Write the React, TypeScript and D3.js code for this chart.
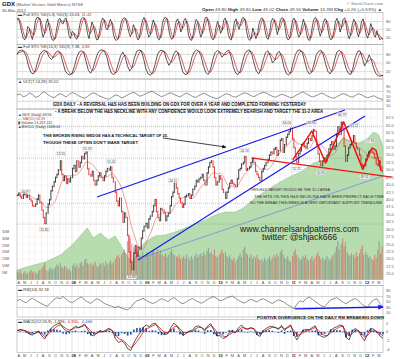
import React, { useEffect, useRef } from 'react';
import * as d3 from 'd3';

const W = 400, H = 359;
const X0 = 17, X1 = 383;
const FONT = "'Liberation Sans', Arial, sans-serif";
const START = new Date(2007, 3, 2);
const END = new Date(2012, 2, 30);

// Weekly GDX closes, 4 per month, Apr 2007 – Mar 2012
const gdxClose = [
  41.5, 42.2, 41.0, 40.5, 41.8, 42.5, 40.8, 41.5, 40.2, 39.5, 38.0, 37.8,
  38.5, 40.2, 41.5, 39.0, 36.5, 34.0, 32.0, 35.5, 38.5, 40.0, 43.0, 44.5,
  46.0, 47.5, 48.5, 50.0, 53.0, 48.5, 46.5, 48.0, 45.5, 47.0, 46.0, 47.5,
  50.5, 51.5, 49.5, 53.0, 51.0, 52.5, 54.5, 53.8, 55.5, 56.0, 50.5, 48.5,
  48.0, 49.5, 46.5, 45.0, 46.5, 48.0, 49.0, 47.5, 46.5, 48.0, 49.5, 50.5,
  50.0, 51.0, 47.5, 46.0, 42.5, 39.5, 38.0, 40.5, 36.0, 32.5, 35.5, 34.0,
  28.0, 22.5, 19.0, 16.5, 22.0, 24.5, 21.0, 24.0, 23.5, 27.0, 29.5, 31.0,
  32.0, 30.5, 33.5, 34.5, 36.0, 38.0, 40.0, 36.0, 34.0, 33.0, 37.0, 36.5,
  35.5, 33.0, 34.5, 35.5, 38.0, 41.0, 42.5, 45.5, 44.0, 42.0, 40.5, 39.0,
  37.5, 38.5, 41.0, 41.5, 42.0, 40.5, 41.5, 43.5, 44.5, 46.5, 46.0, 47.0,
  47.5, 48.5, 46.5, 45.0, 49.0, 51.0, 52.5, 53.0, 51.0, 47.5, 45.0, 46.0,
  48.0, 47.0, 43.5, 42.5, 40.5, 42.5, 44.0, 45.5, 46.5, 45.5, 45.0, 44.5,
  47.0, 50.0, 50.5, 52.0, 52.5, 54.5, 50.0, 50.5, 51.0, 52.5, 54.0, 52.5,
  49.5, 48.5, 47.5, 46.5, 49.5, 50.5, 51.5, 52.5, 53.5, 55.0, 56.0, 55.5,
  57.0, 57.5, 55.0, 56.5, 60.0, 60.5, 56.0, 58.5, 61.0, 62.0, 63.0, 64.0,
  60.5, 57.5, 54.5, 52.5, 55.5, 56.5, 58.5, 59.0, 58.0, 57.5, 59.0, 60.5,
  60.0, 61.5, 63.5, 63.0, 58.5, 55.5, 53.0, 51.5, 53.0, 54.0, 53.0, 55.0,
  57.0, 58.5, 59.5, 57.0, 58.0, 62.0, 64.5, 62.0, 66.0, 64.0, 58.0, 53.0,
  55.0, 57.5, 58.5, 59.5, 61.5, 59.0, 57.5, 57.0, 55.0, 52.0, 50.5, 51.5,
  53.5, 55.0, 56.0, 56.5, 56.0, 55.5, 54.0, 52.0, 51.5, 53.0, 51.0, 49.5,
];

// Weekly average volume, millions
const gdxVolume = [
  6, 5, 7, 4, 5, 6, 4, 5, 6, 7, 5, 6, 5, 4, 6, 7, 8, 10, 12, 7, 6, 8, 9, 7, 8, 9, 11, 10, 12, 9, 8, 10, 9, 7, 8, 6,
  10, 12, 9, 11, 9, 12, 13, 10, 14, 15, 12, 11, 12, 10, 11, 13, 10, 9, 12, 11, 12, 10, 13, 11, 12, 14, 11, 13,
  15, 17, 18, 16, 18, 20, 22, 19, 28, 32, 30, 26, 24, 22, 20, 19, 18, 17, 20, 16,
  18, 20, 17, 19, 21, 22, 18, 20, 22, 19, 21, 18, 17, 19, 16, 18, 20, 22, 19, 18, 17, 16, 18, 15,
  16, 17, 15, 18, 16, 14, 17, 15, 17, 19, 16, 18, 19, 17, 20, 18, 21, 23, 19, 20, 18, 22, 17, 16,
  18, 20, 22, 19, 20, 17, 16, 18, 15, 14, 16, 13, 15, 17, 19, 16, 22, 24, 19, 18, 16, 18, 15, 17,
  16, 18, 15, 14, 15, 13, 16, 14, 15, 17, 14, 16, 18, 16, 19, 17, 20, 22, 18, 16, 15, 17, 14, 13,
  17, 20, 22, 18, 16, 14, 15, 17, 16, 18, 15, 14, 15, 17, 14, 16, 18, 20, 17, 15, 16, 14, 15, 17,
  15, 14, 16, 18, 20, 24, 28, 22, 26, 30, 24, 27, 20, 18, 17, 19, 18, 16, 20, 17, 19, 22, 25, 18,
  20, 18, 16, 17, 15, 14, 18, 16, 22, 28, 19, 24,
];

// Gold overlay (green area)
const goldDates = ['2007-04-02', '2007-06-06', '2007-08-21', '2007-11-04', '2008-01-02', '2008-02-11', '2008-03-17',
  '2008-04-16', '2008-05-21', '2008-06-30', '2008-08-04', '2008-09-08', '2008-10-08', '2008-11-01', '2008-11-26',
  '2008-12-31', '2009-02-18', '2009-04-09', '2009-05-29', '2009-07-18', '2009-09-06', '2009-10-26', '2009-12-15',
  '2010-02-03', '2010-03-25', '2010-05-04', '2010-07-03', '2010-09-01', '2010-10-26', '2010-12-10', '2011-02-13',
  '2011-04-19', '2011-06-08', '2011-07-28', '2011-09-16', '2011-10-21', '2011-11-30', '2012-01-04', '2012-02-13',
  '2012-03-09', '2012-03-30'];
const goldValues = [638, 676, 714, 781, 876, 962, 1038, 943, 990, 924, 962, 848, 752, 714, 829, 905, 962, 971, 1000,
  1038, 1076, 1114, 1162, 1190, 1190, 1229, 1324, 1400, 1467, 1514, 1571, 1657, 1686, 1810, 1895, 1857, 1848, 1876,
  1952, 1924, 1810];

const sto5K = [
  88, 92, 70, 40, 18, 10, 25, 60, 55, 30, 12, 40, 82, 95, 96, 85, 50, 20, 35, 72,
  90, 60, 28, 10, 8, 22, 55, 85, 92, 75, 70, 88, 94, 60, 25, 15, 42, 38, 20, 12,
  30, 68, 90, 95, 92, 70, 35, 15, 50, 78, 62, 30, 10, 12, 45, 80, 93, 85, 55, 48,
  70, 88, 72, 30, 12, 8, 15, 42, 75, 90, 94, 90, 65, 40, 22, 35, 68, 55, 25, 10,
  20, 58, 85, 95, 80, 45, 20, 28, 62, 86, 70, 38, 15, 10, 30, 75, 92, 96, 88, 52,
  25, 12, 18, 50, 82, 90, 66, 40, 55, 84, 92, 70, 28, 12, 8, 30, 64, 88, 80, 45,
  20, 35, 72, 94, 96, 75, 40, 18, 10, 22, 58, 80, 62, 35, 48, 85, 93, 70, 30, 14,
  10, 40, 78, 90, 68, 50, 72, 92, 95, 82, 40, 15, 8, 20, 55, 35, 15, 30, 70, 88,
  94, 80, 45, 18, 12, 38, 80, 92, 86, 60, 30, 55, 85, 95, 90, 58, 22, 10, 15, 50,
  84, 93, 76, 40, 20, 30, 62, 88, 70, 35, 12, 8, 28, 66, 90, 95, 80, 48, 24, 42,
  75, 90, 85, 52, 20, 10, 18, 45, 80, 92, 72, 40, 60, 88, 94, 66, 30, 14, 35, 70,
  88, 76, 40, 22, 45, 80, 90, 62, 30, 16, 40, 72, 56, 30, 20, 45, 25, 10, 16, 12,
];

const sto14K = [
  80, 92, 95, 90, 72, 40, 18, 12, 25, 55, 80, 90, 94, 88, 70, 62, 75, 88, 92, 80,
  50, 22, 12, 8, 15, 40, 70, 88, 92, 86, 55, 25, 15, 30, 58, 82, 94, 95, 90, 72,
  38, 15, 10, 20, 48, 75, 88, 70, 40, 22, 35, 68, 90, 95, 92, 65, 30, 12, 8, 18,
  45, 78, 92, 94, 88, 60, 42, 55, 80, 92, 85, 50, 20, 10, 12, 35, 70, 88, 95, 90,
  74, 40, 18, 10, 25, 60, 85, 93, 88, 70, 78, 90, 94, 72, 36, 15, 10, 22, 55, 82,
  92, 95, 80, 48, 22, 12, 30, 62, 86, 92, 75, 50, 60, 84, 90, 70, 35, 14, 8, 20,
  52, 80, 93, 95, 85, 55, 25, 12, 18, 45, 78, 90, 94, 80, 48, 22, 12, 28, 62, 88,
  94, 86, 58, 30, 14, 10, 35, 70, 90, 92, 68, 40, 55, 78, 60, 30, 12, 6, 5, 7,
];

const ult = [
  55, 60, 48, 52, 63, 58, 45, 50, 62, 68, 57, 49, 44, 53, 61, 55, 47, 58, 65, 60,
  52, 46, 42, 50, 59, 64, 57, 50, 45, 40, 38, 47, 55, 52, 43, 48, 56, 62, 66, 58,
  50, 55, 61, 67, 70, 62, 55, 48, 53, 60, 64, 58, 52, 47, 55, 63, 57, 50, 45, 52,
  58, 62, 54, 48, 44, 40, 46, 54, 60, 57, 50, 46, 52, 59, 64, 60, 53, 48, 55, 61,
  66, 63, 56, 50, 46, 52, 58, 55, 49, 44, 48, 56, 62, 68, 60, 53, 47, 51, 57, 63,
  58, 50, 45, 42, 48, 55, 61, 57, 50, 46, 53, 60, 56, 49, 44, 48, 52, 45, 40, 36,
];

const rsi14 = [
  55, 60, 52, 47, 58, 64, 57, 50, 44, 38, 35, 48, 58, 66, 62, 70, 60, 52, 48, 56,
  63, 68, 58, 50, 45, 55, 62, 57, 48, 42, 38, 34, 30, 35, 28, 24, 22, 30, 45, 55,
  58, 64, 56, 50, 45, 48, 56, 62, 58, 52, 60, 66, 58, 48, 44, 50, 58, 63, 56, 50,
  46, 52, 60, 66, 70, 62, 55, 58, 64, 68, 72, 64, 56, 50, 46, 54, 60, 56, 50, 58,
  62, 57, 50, 45, 52, 58, 54, 48, 40, 34, 25, 42, 55, 50, 62, 68, 60, 52, 44, 36,
  33, 46, 58, 62, 66, 58, 50, 44, 52, 58, 63, 55, 44, 35, 31, 48, 58, 62, 45, 32,
];

const macdLine = [
  0.3, 0.6, 0.4, 0.1, -0.5, -0.7, -0.2, 0.2, -0.8, -1.6, -0.3, 0.8, 1.4, 1.8, 2.0, 0.9, 0.2, 0.1,
  0.8, 1.3, 1.0, 1.4, 1.8, 0.5, -0.6, -0.9, -0.2, 0.3, 0.1, 0.5, 0.9, 0.2, -1.5, -2.4, -2.0, -2.6, -3.8, -4.2, -2.5, -1.2, -0.2, 1.0,
  1.6, 1.2, 1.8, 2.0, 0.8, -0.2, -0.6, -0.4, 1.0, 2.0, 1.4, 0.2, -0.8, -0.3, 0.2, 0.4, 1.2, 1.4, 1.0, 0.2, 1.4, 1.9, 0.4, -0.9,
  -0.8, -1.5, -1.2, -0.2, 0.3, -0.1, 0.9, 1.6, 0.8, 0.6, 1.0, 0.7, -0.6, -1.0, 0.3, 0.8, 1.2, 1.3, 1.0, 0.6, 1.5, 0.3, 1.2, 1.6,
  -0.5, -1.8, -0.6, 0.4, 0.6, 0.5, 1.0, 1.4, -0.5, -1.0, -1.2, -0.8, 0.4, 0.9, 1.2, 1.6, 1.4, -1.2, -1.8, 0.2, 0.8, 0.3, -1.0, -2.0,
  -0.4, 0.8, 0.6, 0.0, -0.9, -1.4,
];

const priceTicks = [15, 17.5, 20, 22.5, 25, 27.5, 30, 32.5, 35, 37.5, 40, 42.5, 45, 47.5, 50, 52.5, 55, 57.5, 60, 62.5, 65, 67.5];
const volTicks = [5, 10, 15, 20, 25, 30, 35];
const monthLetters = ['J', 'F', 'M', 'A', 'M', 'J', 'J', 'A', 'S', 'O', 'N', 'D'];
const stoTicks = [80, 50, 20];
const oscTicks = [90, 70, 50, 30, 10];
const macdTicks = [2, 0, -2, -4];
const dottedLevels = [64.6, 54.0, 38.8, 31.8];

const priceLabels = [
  { text: '40.97', date: '2007-05-15', value: 40.97, above: true },
  { text: '31.80', date: '2007-08-16', value: 31.8, above: false },
  { text: '53.55', date: '2007-11-07', value: 53.55, above: true },
  { text: '55.19', date: '2008-03-17', value: 55.19, above: true },
  { text: '51.02', date: '2008-07-15', value: 51.02, above: true },
  { text: '15.83', date: '2008-10-24', value: 15.83, above: false },
  { text: '44.55', date: '2009-05-20', value: 44.55, above: true },
  { text: '54.74', date: '2010-05-10', value: 54.74, above: true },
  { text: '64.00', date: '2010-12-07', value: 64.0, above: true },
  { text: '52.11', date: '2011-01-25', value: 52.11, above: false },
  { text: '63.96', date: '2011-04-08', value: 63.96, above: true },
  { text: '50.95', date: '2011-05-25', value: 50.95, above: false },
  { text: '66.79', date: '2011-09-08', value: 66.79, above: true },
  { text: '63.11', date: '2011-11-08', value: 63.11, above: true },
  { text: '49.51', date: '2011-12-29', value: 49.51, above: false },
  { text: '57.94', date: '2012-01-25', value: 57.94, above: true },
];

const trendLines = [
  { pts: [['2008-05-05', 40.9], ['2011-09-22', 70.2]], color: '#1515e8', width: 1.1 },
  { pts: [['2008-11-25', 19.7], ['2011-12-31', 68.2]], color: '#1515e8', width: 1.1 },
  { pts: [['2008-11-25', 20.0], ['2012-03-31', 48.0]], color: '#5a6ef0', width: 0.6 },
  { pts: [['2010-06-21', 54.0], ['2012-05-13', 47.6]], color: '#ee1515', width: 1.2 },
  {
    pts: [['2011-01-05', 53.4], ['2011-04-10', 63.1], ['2011-06-18', 52.4], ['2011-09-16', 66.2],
      ['2011-12-20', 50.3], ['2012-02-04', 57.4], ['2012-02-24', 56.7], ['2012-03-20', 49.7]],
    color: '#ee1515', width: 1.5,
  },
];
const wedgeArrow = [['2009-03-29', 60.8], ['2010-02-06', 57.7]];
const rsiArrow = [['2011-01-16', 25], ['2012-03-30', 32]];

export default function App() {
  const ref = useRef<SVGSVGElement>(null);

  useEffect(() => {
    const svg = d3.select(ref.current);
    svg.selectAll('*').remove();
    const parse = d3.timeParse('%Y-%m-%d');
    const x = d3.scaleTime().domain([START, END]).range([X0, X1]);
    const span = END.getTime() - START.getTime();
    const evenDates = (n: number) => d3.range(n).map((i) => new Date(START.getTime() + (i * span) / (n - 1)));
    const weekDate = (i: number) => new Date(2007, 3 + Math.floor(i / 4), 4 + (i % 4) * 7);
    const sma = (arr: number[], n: number) => arr.map((_, i) => d3.mean(arr.slice(Math.max(0, i - n + 1), i + 1)) as number);

    const defs = svg.append('defs');
    const mk = (id: string, color: string, size: number) =>
      defs.append('marker').attr('id', id).attr('viewBox', '0 0 10 10').attr('refX', 9).attr('refY', 5)
        .attr('markerWidth', size).attr('markerHeight', size).attr('orient', 'auto')
        .append('path').attr('d', 'M0,0L10,5L0,10z').attr('fill', color);
    mk('arrBlack', '#111', 5);
    mk('arrBlue', '#1515e8', 4);

    svg.append('rect').attr('width', W).attr('height', H).attr('fill', '#fff');

    const months = d3.timeMonth.range(new Date(2007, 3, 1), new Date(2012, 3, 1));

    const panel = (top: number, bottom: number) => {
      const g = svg.append('g');
      months.forEach((m) => {
        const xm = x(m);
        if (xm < X0) return;
        g.append('line').attr('x1', xm).attr('x2', xm).attr('y1', top).attr('y2', bottom)
          .attr('stroke', m.getMonth() === 0 ? '#c4c4c4' : '#e6e6e6').attr('stroke-width', 0.5);
      });
      g.append('rect').attr('x', X0).attr('y', top).attr('width', X1 - X0).attr('height', bottom - top)
        .attr('fill', 'none').attr('stroke', '#999').attr('stroke-width', 0.5);
      return g;
    };

    const rightLabels = (ticks: number[], y: (v: number) => number, fmt: (v: number) => string) => {
      ticks.forEach((t) => {
        svg.append('text').attr('x', X1 + 3).attr('y', y(t) + 1.3).attr('font-size', 3.9).attr('fill', '#555').text(fmt(t));
      });
    };

    const hLines = (ticks: number[], y: (v: number) => number, color: string, w: number) => {
      ticks.forEach((t) => {
        svg.append('line').attr('x1', X0).attr('x2', X1).attr('y1', y(t)).attr('y2', y(t))
          .attr('stroke', color).attr('stroke-width', w);
      });
    };

    const linePath = (dates: Date[], vals: number[], y: (v: number) => number, color: string, w: number) => {
      svg.append('path').datum(vals)
        .attr('d', d3.line<number>().x((_, i) => x(dates[i])).y((v) => y(v)))
        .attr('fill', 'none').attr('stroke', color).attr('stroke-width', w).attr('stroke-linejoin', 'round');
    };

    const panelLabel = (y: number, parts: { t: string; c?: string }[]) => {
      const t = svg.append('text').attr('x', 18).attr('y', y).attr('font-size', 4.1).attr('fill', '#333');
      parts.forEach((p) => t.append('tspan').attr('fill', p.c || '#333').text(p.t));
    };

    // ---------- Header ----------
    const title = svg.append('text').attr('x', 2).attr('y', 6.2);
    title.append('tspan').attr('font-size', 6).attr('font-weight', 'bold').attr('fill', '#111').text('GDX');
    title.append('tspan').attr('font-size', 4.2).attr('fill', '#555').text(' (Market Vectors Gold Miners) NYSE');
    svg.append('text').attr('x', 2).attr('y', 11.8).attr('font-size', 4.2).attr('fill', '#444').text('30-Mar-2012');
    svg.append('text').attr('x', X1).attr('y', 5.2).attr('text-anchor', 'end').attr('font-size', 4.2).attr('fill', '#777')
      .text('© StockCharts.com');
    const q = svg.append('text').attr('x', 202).attr('y', 11.2).attr('font-size', 4.2).attr('fill', '#444')
      .attr('textLength', 180).attr('lengthAdjust', 'spacingAndGlyphs');
    [['Open', ' 49.80  '], ['High', ' 49.80  '], ['Low', ' 49.02  '], ['Close', ' 49.56  '], ['Volume', ' 16.3M  '], ['Chg', ' +0.26 (+0.53%) ▲']]
      .forEach(([a, b]) => {
        q.append('tspan').attr('font-weight', 'bold').attr('fill', '#222').text(a);
        q.append('tspan').text(b);
      });

    // ---------- Panel 1: Full STO 5,3 ----------
    const y1 = d3.scaleLinear().domain([0, 100]).range([42.5, 16.2]);
    panel(12.5, 44.5);
    hLines(stoTicks, y1, '#b5b5b5', 0.5);
    const d1 = evenDates(sto5K.length);
    linePath(d1, sma(sto5K, 3), y1, '#d01010', 0.65);
    linePath(d1, sto5K, y1, '#111', 0.7);
    rightLabels(stoTicks, y1, String);
    panelLabel(15.6, [{ t: '▬ Full STO %K(5,3) %D(3) 15.03, ' }, { t: '11.42', c: '#e02020' }]);

    // ---------- Panel 2: Full STO 14,3 ----------
    const y2 = d3.scaleLinear().domain([0, 100]).range([77.5, 48.5]);
    panel(44.5, 79);
    hLines(stoTicks, y2, '#b5b5b5', 0.5);
    const d2 = evenDates(sto14K.length);
    linePath(d2, sma(sto14K, 3), y2, '#d01010', 0.65);
    linePath(d2, sto14K, y2, '#111', 0.7);
    rightLabels(stoTicks, y2, String);
    panelLabel(48.3, [{ t: '▬ Full STO %K(14,3) %D(3) 7.38, ' }, { t: '4.88', c: '#e02020' }]);

    // ---------- Panel 3: ULT ----------
    const y3 = d3.scaleLinear().domain([0, 100]).range([108.5, 84]);
    panel(79, 109);
    hLines([70, 30], y3, '#a8a8a8', 0.5);
    linePath(evenDates(ult.length), ult, y3, '#222', 0.5);
    rightLabels(oscTicks, y3, String);
    panelLabel(83, [{ t: '▲ ULT(7,14,28) 35.52' }]);

    // ---------- Main price panel ----------
    const yP = d3.scaleLinear().domain([15, 67.5]).range([274, 118]);
    const yV = d3.scaleLinear().domain([0, 35]).range([279.5, 231.5]);
    const yG = d3.scaleLinear().domain([600, 2000]).range([274, 127]);
    panel(109, 285.5);
    priceTicks.forEach((t) => {
      svg.append('line').attr('x1', X0).attr('x2', X1).attr('y1', yP(t)).attr('y2', yP(t))
        .attr('stroke', '#ececec').attr('stroke-width', 0.4);
    });
    // green gold area
    const gd = goldDates.map((s) => parse(s) as Date);
    svg.append('path').datum(goldValues)
      .attr('d', d3.area<number>().x((_, i) => x(gd[i])).y0(279.5).y1((v) => yG(v)))
      .attr('fill', '#aed8a6').attr('fill-opacity', 0.9).attr('stroke', '#86bf7e').attr('stroke-width', 0.5);

    // volume
    const bw = 1.1;
    gdxVolume.forEach((v, i) => {
      const down = i > 0 && gdxClose[i] < gdxClose[i - 1];
      svg.append('rect').attr('x', x(weekDate(i)) - bw / 2).attr('y', yV(v)).attr('width', bw)
        .attr('height', yV(0) - yV(v)).attr('fill', down ? '#d84a4a' : '#777').attr('fill-opacity', 0.55);
    });
    volTicks.forEach((t) => {
      svg.append('text').attr('x', 2).attr('y', yV(t) + 1.3).attr('font-size', 3.6).attr('fill', '#555').text(`${t}M`);
    });

    // dotted levels
    dottedLevels.forEach((lv) => {
      svg.append('line').attr('x1', X0).attr('x2', X1).attr('y1', yP(lv)).attr('y2', yP(lv))
        .attr('stroke', '#8a8a8a').attr('stroke-width', 0.5).attr('stroke-dasharray', '1,1');
    });

    // MA(50) ~ 10 weeks
    const wd = gdxClose.map((_, i) => weekDate(i));
    svg.append('path').datum(sma(gdxClose, 10))
      .attr('d', d3.line<number>().x((_, i) => x(wd[i])).y((v) => yP(v)).curve(d3.curveBasis))
      .attr('fill', 'none').attr('stroke', '#e86060').attr('stroke-width', 0.6);

    // price bars
    gdxClose.forEach((c, i) => {
      const prev = i > 0 ? gdxClose[i - 1] : c;
      const down = c < prev;
      const xi = x(wd[i]);
      const hi = Math.max(prev, c), lo = Math.min(prev, c);
      const col = down ? '#e01010' : '#111';
      svg.append('line').attr('x1', xi).attr('x2', xi).attr('y1', yP(hi) - 0.8).attr('y2', yP(lo) + 0.8)
        .attr('stroke', col).attr('stroke-width', 0.8);
      svg.append('line').attr('x1', xi).attr('x2', xi + 0.9).attr('y1', yP(c)).attr('y2', yP(c))
        .attr('stroke', col).attr('stroke-width', 0.5);
    });

    // trendlines
    const tl = d3.line<any>().x((p) => x(parse(p[0]) as Date)).y((p) => yP(p[1]));
    trendLines.forEach((t) => {
      svg.append('path').attr('d', tl(t.pts as any)).attr('fill', 'none').attr('stroke', t.color)
        .attr('stroke-width', t.width).attr('stroke-linejoin', 'round');
    });
    svg.append('path').attr('d', tl(wedgeArrow as any)).attr('stroke', '#111').attr('stroke-width', 0.8)
      .attr('fill', 'none').attr('marker-end', 'url(#arrBlack)');

    // price labels
    priceLabels.forEach((l) => {
      const xl = x(parse(l.date) as Date);
      const yl = yP(l.value) + (l.above ? -5.5 : 5.5);
      svg.append('rect').attr('x', xl - 5).attr('y', yl - 2).attr('width', 10).attr('height', 4)
        .attr('fill', '#fff').attr('fill-opacity', 0.85).attr('stroke', '#bbb').attr('stroke-width', 0.3);
      svg.append('text').attr('x', xl).attr('y', yl + 1.2).attr('text-anchor', 'middle').attr('font-size', 3.3)
        .attr('fill', '#444').text(l.text);
    });

    // main legend
    [
      { t: '▲GDX (Daily) 49.56', c: '#333' },
      { t: '— MA(50) 56.39', c: '#e04040' },
      { t: '▮ Volume 21,257,111', c: '#333' },
      { t: '▲$GOLD (Daily) 1669.00', c: '#333' },
    ].forEach((l, i) => {
      svg.append('text').attr('x', 18).attr('y', 115.6 + i * 4).attr('font-size', 3.7).attr('fill', l.c).text(l.t);
    });

    rightLabels(priceTicks, yP, d3.format('.1f'));

    // month labels main + bottom
    const monthLabels = (yy: number) => {
      months.forEach((m) => {
        const isJan = m.getMonth() === 0;
        svg.append('text').attr('x', Math.max(x(m), X0) + 1.8).attr('y', yy).attr('text-anchor', 'middle')
          .attr('font-size', 3.9).attr('font-weight', isJan ? 'bold' : 'normal').attr('fill', isJan ? '#222' : '#555')
          .text(isJan ? String(m.getFullYear()).slice(2) : monthLetters[m.getMonth()]);
      });
    };
    svg.append('rect').attr('x', X0 + 0.3).attr('y', 280).attr('width', X1 - X0 - 0.6).attr('height', 5.2).attr('fill', '#fff');
    monthLabels(284.2);

    // annotations
    const ann = (t: string, xx: number, yy: number, len: number, size: number, bold: boolean, fill: string) => {
      svg.append('text').attr('x', xx).attr('y', yy).attr('font-size', size).attr('font-weight', bold ? 'bold' : 'normal')
        .attr('fill', fill).attr('textLength', len).attr('lengthAdjust', 'spacingAndGlyphs').text(t);
    };
    ann('GDX DAILY - A REVERSAL H&S HAS BEEN BUILDING ON GDX FOR OVER A YEAR AND COMPLETED FORMING YESTERDAY', 53, 105.6, 253, 4.6, true, '#111');
    ann('- A BREAK BELOW THE H&S NECKLINE WITH ANY CONFIDENCE WOULD LOOK EXTREMELY BEARISH AND TARGET THE 31-2 AREA', 55, 113.2, 268, 4.6, true, '#111');
    ann('THIS BROKEN RISING WEDGE HAS A TECHNICAL TARGET OF 25,', 43, 136.8, 125, 4.4, true, '#111');
    ann("THOUGH THESE OFTEN DON'T MAKE TARGET", 43, 143.6, 95, 4.4, true, '#111');
    ann('THIS H&S TARGET WOULD BE THE 31-2 AREA', 250, 191.3, 80, 3.9, false, '#333');
    ann('- THE HITS ON THIS H&S NECKLINE HAVE BEEN PERFECT EACH TIME', 252, 197.6, 132, 3.9, false, '#333');
    ann('SO THE BREAK THIS WEEK IS A VERY IMPORTANT SUPPORT TRENDLINE', 250, 204, 132, 3.9, false, '#333');
    ann('www.channelsandpatterns.com', 240, 231.6, 119, 8.2, false, '#1a1a1a');
    ann('twitter: @shjack666', 262, 239.6, 75, 8.2, false, '#1a1a1a');

    // ---------- RSI ----------
    const yR = d3.scaleLinear().domain([0, 100]).range([315.8, 288.3]);
    panel(285.5, 317);
    hLines([70, 30], yR, '#a0a0a0', 0.5);
    linePath(evenDates(rsi14.length), rsi14, yR, '#222', 0.5);
    rightLabels(oscTicks, yR, String);
    panelLabel(290.8, [{ t: '▬ RSI(14) 32.18' }]);
    svg.append('path').datum(rsiArrow)
      .attr('d', d3.line<any>().x((p) => x(parse(p[0]) as Date)).y((p) => yR(p[1])))
      .attr('stroke', '#1515e8').attr('stroke-width', 1.3).attr('fill', 'none').attr('marker-end', 'url(#arrBlue)');
    ann('POSITIVE DIVERGENCE ON THE DAILY RSI BREAKING DOWN', 257, 318.6, 127, 4.1, true, '#111');

    // ---------- MACD ----------
    const yM = d3.scaleLinear().domain([-4, 2]).range([349.6, 323.2]);
    panel(319.5, 352.5);
    const dm = evenDates(macdLine.length);
    const signal: number[] = [];
    macdLine.forEach((v, i) => signal.push(i === 0 ? v : signal[i - 1] + 0.5 * (v - signal[i - 1])));
    svg.append('line').attr('x1', X0).attr('x2', X1).attr('y1', yM(0)).attr('y2', yM(0)).attr('stroke', '#8fb0e0').attr('stroke-width', 0.8);
    macdLine.forEach((v, i) => {
      const h = v - signal[i];
      svg.append('rect').attr('x', x(dm[i]) - 0.8).attr('y', Math.min(yM(0), yM(h))).attr('width', 1.6)
        .attr('height', Math.abs(yM(h) - yM(0))).attr('fill', '#1d4f9a');
    });
    linePath(dm, signal, yM, '#e01010', 0.8);
    linePath(dm, macdLine, yM, '#111', 0.7);
    rightLabels(macdTicks, yM, String);
    panelLabel(323, [{ t: '▬ MACD(12,26,9) -1.396, ' }, { t: '-0.930', c: '#e02020' }, { t: ', ' }, { t: '-0.466', c: '#2a55cc' }]);
    monthLabels(357);
  }, []);

  return (
    <svg ref={ref} width={W} height={H} fontFamily={FONT}
      style={{ position: 'absolute', left: 0, top: 0, display: 'block' }} />
  );
}
